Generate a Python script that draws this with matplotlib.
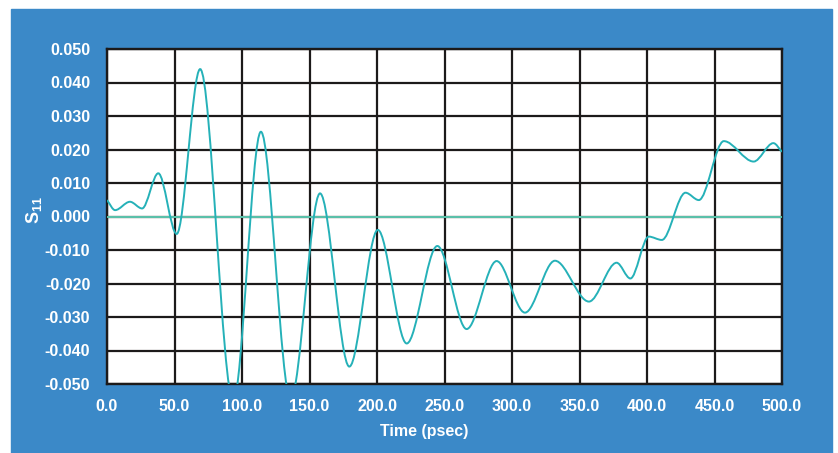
import numpy as np
import matplotlib.pyplot as plt
from matplotlib.path import Path
from matplotlib.patches import PathPatch, Rectangle

# S11 time-domain response: turning points of the trace (psec, S11)
time_ps = [0, 6, 17, 26, 38, 51.6, 69, 93.5, 114, 136, 157.8, 179.5,
           200.6, 222, 244.7, 266.4, 288.6, 309.6, 331.8, 357, 377.5,
           387.7, 401.3, 411, 428.5, 438.4, 456.9, 479, 493.6, 500]
s11 = [0.0049, 0.0019, 0.0044, 0.0024, 0.0129, -0.0052, 0.0440, -0.0550,
       0.0253, -0.0545, 0.0069, -0.0448, -0.0040, -0.0379, -0.0088,
       -0.0336, -0.0133, -0.0287, -0.0132, -0.0254, -0.0138, -0.0185,
       -0.0060, -0.0070, 0.0071, 0.0049, 0.0225, 0.0164, 0.0219, 0.0193]

x_ticks = [0, 50, 100, 150, 200, 250, 300, 350, 400, 450, 500]
y_ticks = [-0.05, -0.04, -0.03, -0.02, -0.01, 0.0, 0.01, 0.02, 0.03, 0.04, 0.05]

BLUE = '#3b89c8'
TRACE = '#25b1b8'
ZERO = '#5cc5ae'
GRID = '#1c1a1a'


def smooth_path(x, y):
    # monotone cubic (Fritsch-Carlson) through the knots, as Bezier segments
    x = np.asarray(x, float)
    y = np.asarray(y, float)
    h = np.diff(x)
    d = np.diff(y) / h
    m = np.zeros_like(y)
    m[0], m[-1] = d[0], d[-1]
    for i in range(1, len(y) - 1):
        if d[i - 1] * d[i] > 0:
            w1 = 2 * h[i] + h[i - 1]
            w2 = h[i] + 2 * h[i - 1]
            m[i] = (w1 + w2) / (w1 / d[i - 1] + w2 / d[i])
    verts = [(x[0], y[0])]
    codes = [Path.MOVETO]
    for i in range(len(h)):
        verts += [(x[i] + h[i] / 3, y[i] + m[i] * h[i] / 3),
                  (x[i + 1] - h[i] / 3, y[i + 1] - m[i + 1] * h[i] / 3),
                  (x[i + 1], y[i + 1])]
        codes += [Path.CURVE4] * 3
    return Path(verts, codes)


plt.rcParams['font.family'] = ['Liberation Sans', 'DejaVu Sans']
plt.rcParams['mathtext.fontset'] = 'custom'
plt.rcParams['mathtext.rm'] = 'Liberation Sans:bold'
plt.rcParams['mathtext.bf'] = 'Liberation Sans:bold'

W, H = 838, 453
fig = plt.figure(figsize=(W / 100, H / 100), dpi=100)
fig.patch.set_facecolor('white')
fig.add_artist(Rectangle((11 / W, 0), (832 - 11) / W, (H - 9) / H,
                         transform=fig.transFigure, color=BLUE, zorder=0))

ax = fig.add_axes([107 / W, 1 - 384 / H, (782 - 107) / W, (384 - 49) / H])
ax.set_facecolor('white')
ax.set_xlim(0, 500)
ax.set_ylim(-0.05, 0.05)

ax.set_xticks(x_ticks)
ax.set_xticklabels([f'{v:.1f}' for v in x_ticks])
ax.set_yticks(y_ticks)
ax.set_yticklabels([f'{v:.3f}' if abs(v) > 1e-9 else '0.000' for v in y_ticks])
ax.tick_params(length=0, colors='white', labelsize=11.5)
ax.tick_params(axis='x', pad=11)
ax.tick_params(axis='y', pad=12)
for lab in ax.get_xticklabels() + ax.get_yticklabels():
    lab.set_fontweight('bold')

ax.grid(True, color=GRID, linewidth=1.6)
ax.set_axisbelow(True)
for sp in ax.spines.values():
    sp.set_color(GRID)
    sp.set_linewidth(1.7)

ax.axhline(0, color=ZERO, linewidth=1.4, zorder=3)
ax.add_patch(PathPatch(smooth_path(time_ps, s11), fill=False,
                       edgecolor=TRACE, linewidth=1.4, zorder=4))

ax.set_xlabel('Time (psec)', color='white', fontsize=11.5, fontweight='bold')
ax.xaxis.set_label_coords(0.47, -0.12)
ax.set_ylabel(r'$\mathrm{S_{11}}$', color='white', fontsize=13)
ax.yaxis.set_label_coords(-0.093, 0.52)

fig.savefig('out.png', dpi=100, facecolor=fig.get_facecolor())
